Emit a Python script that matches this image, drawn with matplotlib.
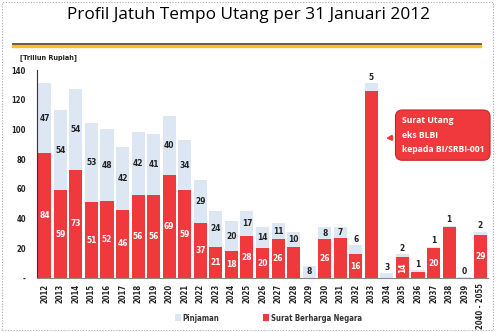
import numpy as np
import matplotlib
matplotlib.use("Agg")
import matplotlib.pyplot as plt
from matplotlib.patches import Rectangle
from matplotlib.lines import Line2D

# data (Triliun Rupiah)
years = ['2012', '2013', '2014', '2015', '2016', '2017', '2018', '2019', '2020',
         '2021', '2022', '2023', '2024', '2025', '2026', '2027', '2028', '2029',
         '2030', '2031', '2032', '2033', '2034', '2035', '2036', '2037', '2038',
         '2039', '2040 - 2055']
sbn = [84, 59, 73, 51, 52, 46, 56, 56, 69, 59, 37, 21, 18, 28, 20, 26, 21, 0,
       26, 27, 16, 126, 0, 14, 4, 20, 34, 0, 29]
pinjaman = [47, 54, 54, 53, 48, 42, 42, 41, 40, 34, 29, 24, 20, 17, 14, 11, 10, 8,
            8, 7, 6, 5, 3, 2, 1, 1, 1, 0.3, 2]
# which SBN values carry a label in the original
sbn_shown = [1, 1, 1, 1, 1, 1, 1, 1, 1, 1, 1, 1, 1, 1, 1, 1, 0, 0,
             1, 0, 1, 0, 0, 1, 0, 1, 0, 0, 1]

RED = '#f0393d'
BLUE = '#dde7f3'
NARROW = dict(family='DejaVu Sans', stretch='condensed', weight='bold')

fig = plt.figure(figsize=(5, 3.32), dpi=100)
ax = fig.add_axes([0.074, 0.163, 0.902, 0.626])

x = np.arange(len(years))
ax.bar(x, sbn, width=0.84, color=RED, label='Surat Berharga Negara')
ax.bar(x, pinjaman, width=0.84, bottom=sbn, color=BLUE, label='Pinjaman')

for i in range(len(years)):
    top = sbn[i] + pinjaman[i]
    if pinjaman[i] >= 7:
        ypos = sbn[i] + pinjaman[i] / 2
    else:
        ypos = top + 4
    ax.text(x[i], ypos, f'{pinjaman[i]:.0f}', ha='center', va='center',
            fontsize=6, color='#222222', **NARROW)
    if sbn_shown[i]:
        rot = 90 if years[i] == '2035' else 0
        ax.text(x[i], sbn[i] / 2, f'{sbn[i]}', ha='center', va='center',
                fontsize=6, color='white', rotation=rot, **NARROW)

ax.set_xlim(-0.5, len(years) - 0.5)
ax.set_ylim(0, 140)
ax.set_yticks(range(0, 141, 20))
ax.set_yticklabels(['-'] + [str(v) for v in range(20, 141, 20)])
ax.set_xticks(x)
ax.set_xticklabels(years, rotation=90)
for lab in ax.get_xticklabels() + ax.get_yticklabels():
    lab.set_family('DejaVu Sans')
    lab.set_stretch('condensed')
    lab.set_fontsize(5.5)
    lab.set_fontweight('bold')
    lab.set_color('#222222')
ax.tick_params(axis='x', length=0, pad=4)
ax.tick_params(axis='y', length=0, pad=8)
ax.spines['top'].set_visible(False)
ax.spines['right'].set_visible(False)
ax.spines['left'].set_color('#333333')
ax.spines['left'].set_linewidth(0.8)
ax.spines['bottom'].set_color('#888888')

ax.annotate('Surat Utang\neks BLBI\nkepada BI/SRBI-001',
            xy=(21.75, 94), xytext=(0.803, 0.593), textcoords='figure fraction',
            ha='left', va='center', fontsize=6.2, color='white', fontweight='bold',
            family=['Open Sans', 'DejaVu Sans'], linespacing=1.8,
            bbox=dict(boxstyle='round,pad=0.7,rounding_size=0.8', fc=RED, ec='#c02828', lw=0.8),
            arrowprops=dict(arrowstyle='-|>', color=RED, lw=1.5, mutation_scale=7))

fig.text(0.497, 0.955, 'Profil Jatuh Tempo Utang per 31 Januari 2012', ha='center', va='center',
         fontsize=12.4, fontweight='medium', color='#000000',
         family=['Open Sans', 'DejaVu Sans'])
fig.text(0.04, 0.826, '[Triliun Rupiah]', ha='left', va='center', fontsize=5.2,
         color='#222222', **NARROW)

# header rule
fig.add_artist(Line2D([0.026, 0.96], [0.868, 0.868], color='#4d4d4d', lw=2.0,
                      transform=fig.transFigure))
fig.add_artist(Line2D([0.026, 0.96], [0.86, 0.86], color='#f5c31c', lw=2.4,
                      transform=fig.transFigure))
# dotted frame
fig.add_artist(Rectangle((0.004, 0.005), 0.982, 0.99, fill=False, ec='#aaaaaa',
                         lw=0.8, ls=(0, (1, 1.5)), transform=fig.transFigure))

handles, labels = ax.get_legend_handles_labels()
leg = fig.legend(handles[::-1], labels[::-1], loc='center', bbox_to_anchor=(0.537, 0.042),
                 ncol=2, frameon=False, handlelength=0.7, handleheight=1.0,
                 columnspacing=5.6, handletextpad=0.3,
                 prop={'family': 'DejaVu Sans', 'stretch': 'condensed', 'size': 5.6,
                       'weight': 'bold'})
for t in leg.get_texts():
    t.set_color('#333333')

fig.savefig('out.png', dpi=100)
